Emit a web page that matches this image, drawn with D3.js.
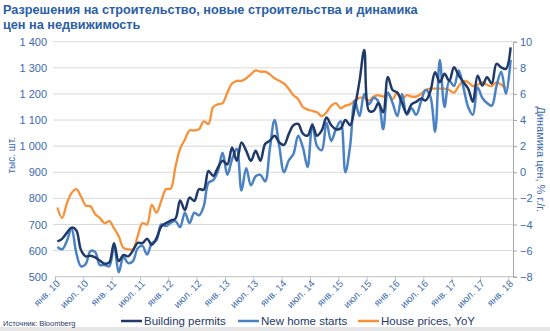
<!DOCTYPE html>
<html>
<head>
<meta charset="utf-8">
<script src="https://cdn.jsdelivr.net/npm/d3@7"></script>
<style>
  html, body { margin: 0; padding: 0; background: #fff; }
  svg { display: block; font-family: "Liberation Sans", Arial, sans-serif; }
</style>
</head>
<body>
<svg id="chart" width="550" height="331"></svg>
<script>
// ---------- DATA ----------
const tickLabels = ["янв. 10","июл. 10","янв. 11","июл. 11","янв. 12","июл. 12","янв. 13","июл. 13",
  "янв. 14","июл. 14","янв. 15","июл. 15","янв. 16","июл. 16","янв. 17","июл. 17","янв. 18"];

// Monthly, Jan 2010 .. Jan 2018 (97 months), thousands of units
const buildingPermits = [
  635,645,668,688,678,602,578,580,574,562,550,555,
  628,560,583,578,600,630,628,645,622,648,692,705,
  715,722,792,755,803,790,835,833,905,886,918,944,
  930,995,944,1014,982,944,982,944,1008,1021,1040,1014,
  1005,1046,1080,1085,1048,1040,1080,1040,1060,1110,1080,1065,
  1068,1100,1080,1150,1250,1368,1135,1135,1165,1130,1265,1215,
  1205,1165,1125,1160,1170,1182,1175,1210,1283,1245,1277,1250,
  1302,1271,1245,1220,1170,1270,1232,1264,1240,1315,1302,1296,
  1378
];
const newHomeStarts = [
  614,605,636,685,592,540,548,598,595,545,545,540,
  622,517,575,552,560,608,618,585,628,640,700,694,
  706,713,690,745,705,745,735,770,860,870,905,975,
  890,950,990,830,915,850,885,890,865,990,1100,1000,
  900,945,970,1040,995,920,1085,1000,985,1090,1020,1065,
  1095,900,1000,1175,1115,1200,1160,1185,1170,1065,1205,1165,
  1115,1200,1120,1145,1120,1170,1215,1190,1055,1330,1150,1250,
  1230,1290,1225,1150,1120,1225,1185,1165,1155,1230,1285,1200,
  1330
];
// House prices, % YoY (Jan 2010 .. Dec 2017)
const housePricesYoY = [
  -2.7,-3.5,-2.4,-1.6,-1.3,-1.85,-2.55,-2.6,-3.2,-3.5,-3.9,-3.75,
  -4.3,-4.9,-5.8,-5.9,-5.9,-4.9,-3.9,-4.0,-2.5,-3.1,-2.2,-1.3,
  -1.25,0.4,1.8,2.5,3.2,3.2,3.3,3.9,3.7,5.0,5.2,5.3,
  6.1,6.8,7.0,7.0,7.2,7.5,7.8,7.7,7.7,7.5,7.2,7.0,
  6.8,6.4,5.9,5.6,5.0,4.8,4.7,4.6,4.3,4.6,5.1,5.3,
  4.9,5.1,5.2,5.5,5.7,5.7,5.5,5.8,5.9,5.8,6.0,5.6,
  6.1,5.6,5.9,5.8,5.8,6.0,6.3,6.4,6.4,6.4,6.4,6.3,
  6.1,6.6,7.0,6.9,6.6,6.7,6.9,6.7,6.6,6.9,6.7,6.4
];
const leftTicks = [500,600,700,800,900,1000,1100,1200,1300,1400];
const rightTicks = [-8,-6,-4,-2,0,2,4,6,8,10];
const seriesNames = ["Building permits","New home starts","House prices, YoY"];

// ---------- LAYOUT ----------
const L = 55, R = 513, T = 41.7, B = 276.7;
const cDark = "#1F3A68", cMid = "#4A82C4", cOrange = "#F7923A";
const cText = "#3A6AB0", cTitle = "#2A5EA6";

const svg = d3.select("#chart");
svg.append("rect").attr("x",0).attr("y",327).attr("width",550).attr("height",4).attr("fill","#E6E6E6");

const nMonths = buildingPermits.length;
const xEdge = d3.scaleLinear().domain([0, nMonths]).range([L, R]);
const xc = i => xEdge(i + 0.5);
const yL = d3.scaleLinear().domain([500, 1400]).range([B, T]);
const yR = d3.scaleLinear().domain([-8, 10]).range([B, T]);

const loc = d3.formatLocale({decimal: ",", thousands: " ", grouping: [3], currency: ["", ""]});
const fmt = loc.format(",d");

// gridlines
svg.append("g").selectAll("line").data(leftTicks.slice(1)).join("line")
  .attr("x1", L - 2).attr("x2", R).attr("y1", d => yL(d)).attr("y2", d => yL(d))
  .attr("stroke", "#D9D9D9").attr("stroke-width", 1);

// left axis (labels only)
const gL = svg.append("g").attr("transform", `translate(${L - 7},0)`)
  .call(d3.axisLeft(yL).tickValues(leftTicks).tickFormat(fmt).tickSize(0));
gL.select(".domain").remove();
gL.selectAll("text").attr("fill", cText).attr("font-size", 11).attr("x", -1);

// right axis
const gR = svg.append("g").attr("transform", `translate(${R},0)`)
  .call(d3.axisRight(yR).tickValues(rightTicks).tickSize(4).tickFormat(d3.format("d")));
gR.select(".domain").attr("stroke", "#A6A6A6");
gR.selectAll(".tick line").attr("stroke", "#A6A6A6");
gR.selectAll("text").attr("fill", cText).attr("font-size", 11).attr("x", 7);

// x axis
const xTickVals = d3.range(0, nMonths, 6);
const gX = svg.append("g").attr("transform", `translate(0,${B})`)
  .call(d3.axisBottom(xEdge).tickValues(xTickVals).tickSize(4).tickFormat((d, j) => tickLabels[j]));
gX.select(".domain").attr("stroke", "#BFBFBF").attr("d", `M${L},0H${R}`);
gX.selectAll(".tick line").attr("stroke", "#BFBFBF");
gX.selectAll("text").attr("fill", cText).attr("font-size", 9.8)
  .attr("text-anchor", "end").attr("dy", 0).attr("y", 0)
  .attr("transform", "translate(5,7.5) rotate(-45)");

// lines
const curve = d3.curveCatmullRom.alpha(0.5);
const lineL = d3.line().x((d, i) => xc(i)).y(d => yL(d)).curve(curve);
const lineR = d3.line().x((d, i) => xc(i)).y(d => yR(d)).curve(curve);

svg.append("path").datum(housePricesYoY).attr("d", lineR)
  .attr("fill", "none").attr("stroke", cOrange).attr("stroke-width", 2.3);
svg.append("path").datum(newHomeStarts).attr("d", lineL)
  .attr("fill", "none").attr("stroke", cMid).attr("stroke-width", 2.5);
svg.append("path").datum(buildingPermits).attr("d", lineL)
  .attr("fill", "none").attr("stroke", cDark).attr("stroke-width", 2.5);

// axis titles
svg.append("text").attr("transform", `translate(15,${(T + B) / 2 - 4}) rotate(-90)`)
  .attr("text-anchor", "middle").attr("fill", cText).attr("font-size", 10).text("тыс. шт.");
svg.append("text").attr("transform", `translate(537,${(T + B) / 2}) rotate(90)`)
  .attr("text-anchor", "middle").attr("fill", cText).attr("font-size", 11).text("Динамика цен, % г./г.");

// title
const title = svg.append("text").attr("x", 3).attr("fill", cTitle).attr("font-weight", "bold").attr("font-size", 12.7);
title.append("tspan").attr("x", 3).attr("y", 13.5).text("Разрешения на строительство, новые строительства и динамика");
title.append("tspan").attr("x", 3).attr("y", 28.5).text("цен на недвижимость");

// source
svg.append("text").attr("x", 3).attr("y", 325.5).attr("font-size", 7.5).attr("fill", "#1F3A68")
  .text("Источник: Bloomberg");

// legend
const legendItems = [
  {name: seriesNames[0], color: cDark, x: 121},
  {name: seriesNames[1], color: cMid, x: 238},
  {name: seriesNames[2], color: cOrange, x: 358}
];
const lg = svg.append("g").selectAll("g").data(legendItems).join("g")
  .attr("transform", d => `translate(${d.x},321)`);
lg.append("line").attr("x1", 0).attr("x2", 21).attr("y1", 0).attr("y2", 0)
  .attr("stroke", d => d.color).attr("stroke-width", 2.5);
lg.append("text").attr("x", 23).attr("y", 4).attr("font-size", 11.5).attr("fill", "#1F3A68")
  .text(d => d.name);
</script>
</body>
</html>
